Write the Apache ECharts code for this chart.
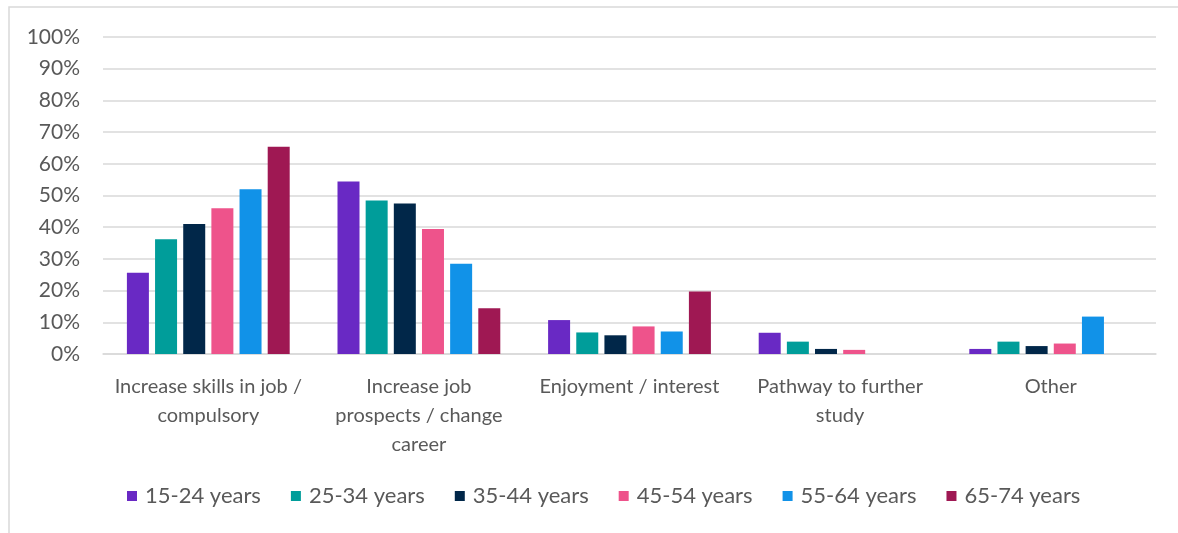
<!DOCTYPE html>
<html>
<head>
<meta charset="utf-8">
<script src="https://cdn.jsdelivr.net/npm/echarts@6/dist/echarts.min.js"></script>
<style>
  html, body { margin: 0; padding: 0; background: #ffffff; }
  #chart { width: 1178px; height: 533px; }
</style>
</head>
<body>
<div id="chart"></div>
<script>
// Reasons for study, by age group (percent of respondents)
const categories = [
  'Increase skills in job /\ncompulsory',
  'Increase job\nprospects / change\ncareer',
  'Enjoyment / interest',
  'Pathway to further\nstudy',
  'Other'
];
const seriesNames = ['15-24 years', '25-34 years', '35-44 years', '45-54 years', '55-64 years', '65-74 years'];
const age15to24 = [25.6, 54.4, 10.7, 6.7, 1.6];
const age25to34 = [36.2, 48.4, 6.8, 3.9, 3.9];
const age35to44 = [41.0, 47.5, 5.9, 1.6, 2.5];
const age45to54 = [46.0, 39.4, 8.7, 1.3, 3.3];
const age55to64 = [52.0, 28.5, 7.1, 0, 11.8];
const age65to74 = [65.4, 14.4, 19.7, 0, 0];
const seriesColors = ['#6929c4', '#009d9a', '#012749', '#ee538b', '#1192e8', '#9f1853'];

const seriesValues = [age15to24, age25to34, age35to44, age45to54, age55to64, age65to74];
const FONT = 'Lato, "Open Sans", sans-serif';
const TEXT = '#595959';

const chart = echarts.init(document.getElementById('chart'), null, { renderer: 'canvas' });
chart.setOption({
  animation: false,
  backgroundColor: '#ffffff',
  color: seriesColors,
  graphic: [{
    type: 'rect',
    shape: { x: 9, y: 7, width: 1200, height: 560 },
    style: { fill: 'none', stroke: '#d9d9d9', lineWidth: 1.5 },
    silent: true,
    z: -10
  }],
  grid: { left: 103, right: 22, top: 37, bottom: 179, containLabel: false },
  legend: {
    data: seriesNames,
    bottom: 21,
    left: 122,
    icon: 'rect',
    itemWidth: 10,
    itemHeight: 10,
    itemGap: 30,
    textStyle: { fontFamily: FONT, fontSize: 22, color: TEXT, padding: [0, 0, 0, 3] }
  },
  xAxis: {
    type: 'category',
    data: categories,
    axisLine: { show: true, lineStyle: { color: '#d9d9d9', width: 1.5 } },
    axisTick: { show: false },
    axisLabel: {
      interval: 0,
      margin: 18,
      fontFamily: FONT,
      fontSize: 20,
      lineHeight: 29,
      color: TEXT,
      align: 'center'
    }
  },
  yAxis: {
    type: 'value',
    min: 0,
    max: 100,
    interval: 10,
    axisLine: { show: false },
    axisTick: { show: false },
    splitLine: { lineStyle: { color: '#d9d9d9', width: 1.5 } },
    axisLabel: {
      formatter: '{value}%',
      margin: 23,
      fontFamily: FONT,
      fontSize: 21,
      color: TEXT
    }
  },
  series: seriesNames.map((name, i) => ({
    name: name,
    type: 'bar',
    data: seriesValues[i],
    barWidth: 22,
    barGap: '28%',
    itemStyle: { color: seriesColors[i] }
  }))
});
</script>
</body>
</html>
